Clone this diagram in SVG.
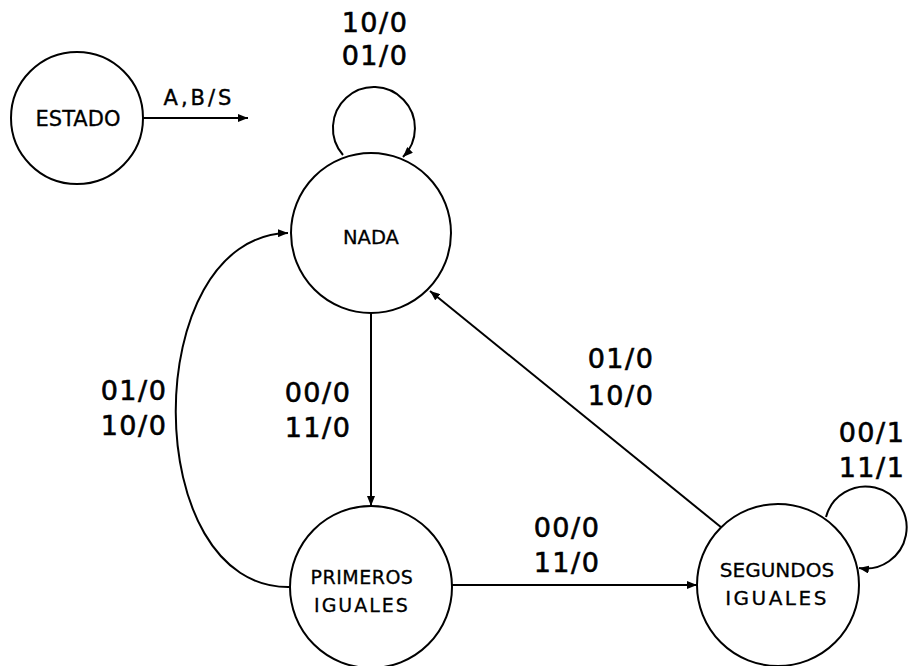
<svg xmlns="http://www.w3.org/2000/svg" width="908" height="666" viewBox="0 0 908 666">
  <style>
    .state { fill: #ffffff; stroke: #000000; stroke-width: 2; }
    .edge { fill: none; stroke: #000000; stroke-width: 2; }
    .name { font-family: "DejaVu Sans", Verdana, sans-serif; font-size: 20px; fill: #000000; stroke: #000000; stroke-width: 0.3; text-anchor: middle; }
    .lbl { font-family: "DejaVu Sans", Verdana, sans-serif; font-size: 27px; fill: #000000; stroke: #000000; stroke-width: 0.6; text-anchor: middle; letter-spacing: 1.5px; }
  </style>
  <defs>
    <marker id="arrow" markerUnits="userSpaceOnUse" markerWidth="10" markerHeight="8" refX="10" refY="4" orient="auto">
      <path d="M0,0 L10,4 L0,8 z" fill="#000000"/>
    </marker>
  </defs>

  <rect width="908" height="666" fill="#ffffff"/>

  <!-- transitions -->
  <g id="connectors">
    <line class="edge" x1="143" y1="118" x2="248" y2="118" marker-end="url(#arrow)"/>
    <path class="edge" d="M343,155 A41,41 0 1,1 403,157" marker-end="url(#arrow)"/>
    <line class="edge" x1="371" y1="313" x2="371" y2="506" marker-end="url(#arrow)"/>
    <path class="edge" d="M290,587 C138,590 138,236 288,233" marker-end="url(#arrow)"/>
    <line class="edge" x1="452" y1="585" x2="697" y2="585" marker-end="url(#arrow)"/>
    <line class="edge" x1="722" y1="528" x2="430" y2="291" marker-end="url(#arrow)"/>
    <path class="edge" d="M826,517 A41,41 0 1,1 859,568" marker-end="url(#arrow)"/>
  </g>

  <!-- transition labels -->
  <g id="labels">
    <text x="199" y="105" class="lbl" style="font-size:21px;letter-spacing:3px;stroke-width:0.4">A,B/S</text>
    <text x="375" y="32" class="lbl">10/0</text>
    <text x="375" y="65" class="lbl">01/0</text>
    <text x="134" y="400" class="lbl">01/0</text>
    <text x="134" y="435" class="lbl">10/0</text>
    <text x="318" y="402" class="lbl">00/0</text>
    <text x="318" y="437" class="lbl">11/0</text>
    <text x="621" y="368" class="lbl">01/0</text>
    <text x="621" y="405" class="lbl">10/0</text>
    <text x="567" y="537" class="lbl">00/0</text>
    <text x="567" y="572" class="lbl">11/0</text>
    <text x="872" y="442" class="lbl">00/1</text>
    <text x="872" y="477" class="lbl">11/1</text>
  </g>

  <!-- states -->
  <g id="estado">
    <circle class="state" cx="77" cy="118" r="66"/>
    <text x="78" y="126" class="name" style="font-size:21px">ESTADO</text>
  </g>
  <g id="nada">
    <circle class="state" cx="371" cy="233" r="80"/>
    <text x="371" y="244" class="name" style="font-size:19.5px">NADA</text>
  </g>
  <g id="primeros-iguales">
    <circle class="state" cx="371" cy="587" r="81"/>
    <text x="362" y="584" class="name" style="font-size:19px;letter-spacing:0.5px">PRIMEROS</text>
    <text x="362" y="612" class="name" style="font-size:19px;letter-spacing:2px">IGUALES</text>
  </g>
  <g id="segundos-iguales">
    <circle class="state" cx="778" cy="585" r="81"/>
    <text x="777" y="577" class="name">SEGUNDOS</text>
    <text x="777" y="605" class="name" style="letter-spacing:2.5px">IGUALES</text>
  </g>
</svg>
